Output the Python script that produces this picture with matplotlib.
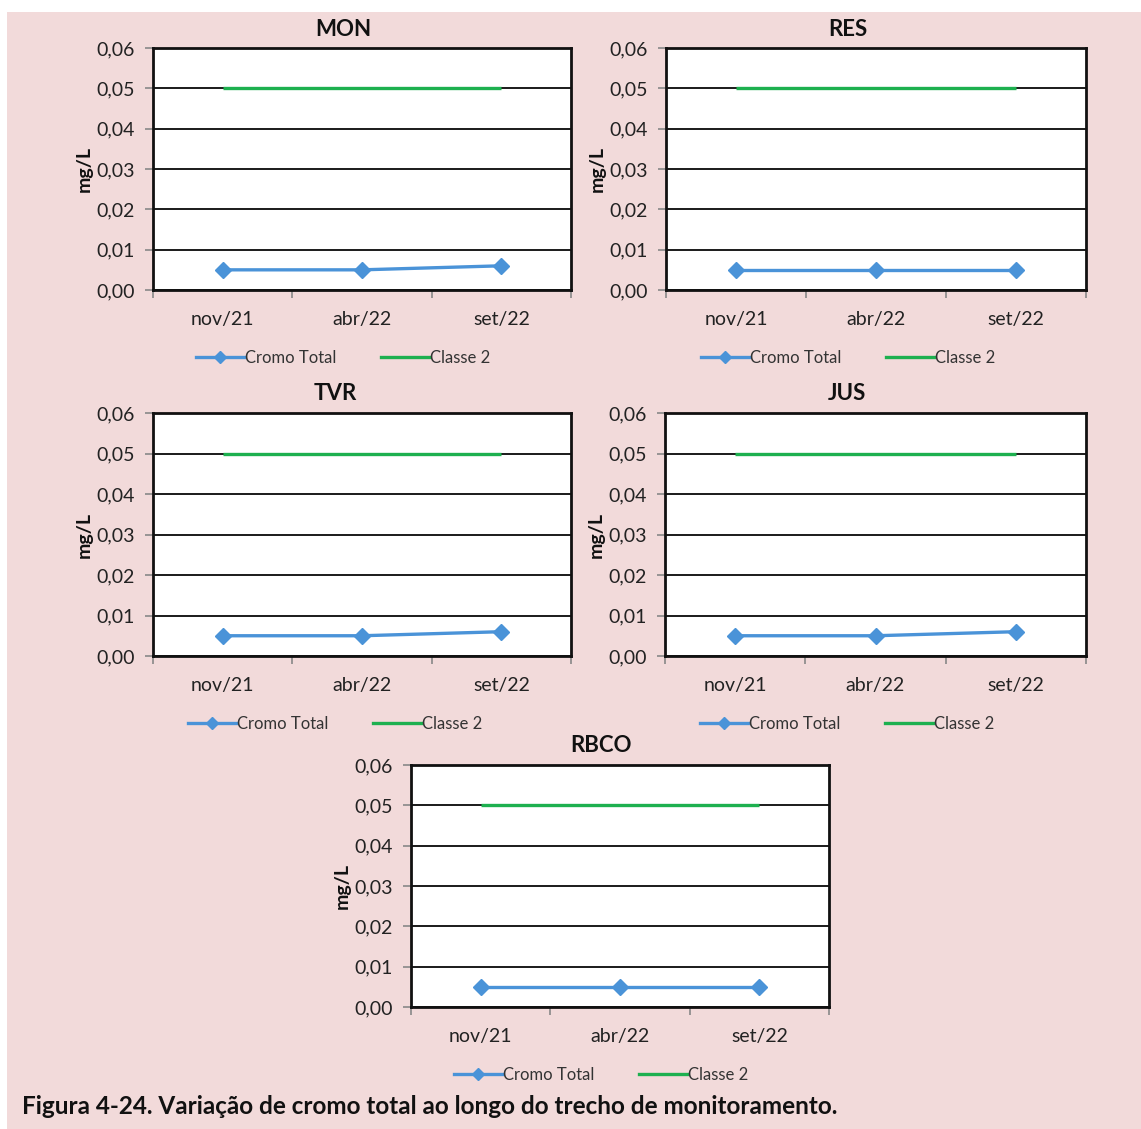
import matplotlib
matplotlib.use("Agg")
import matplotlib.pyplot as plt
from matplotlib.lines import Line2D
import numpy as np

plt.rcParams['font.family'] = ['Lato', 'DejaVu Sans']

# Sampling campaigns and total chromium (mg/L) per station
campaigns = ["nov/21", "abr/22", "set/22"]
stations = ["MON", "RES", "TVR", "JUS", "RBCO"]
cromo_mon = [0.005, 0.005, 0.006]
cromo_res = [0.005, 0.005, 0.005]
cromo_tvr = [0.005, 0.005, 0.006]
cromo_jus = [0.005, 0.005, 0.006]
cromo_rbco = [0.005, 0.005, 0.005]
classe2_limit = 0.05
y_ticks = [0.00, 0.01, 0.02, 0.03, 0.04, 0.05, 0.06]
y_tick_labels = ["0,00", "0,01", "0,02", "0,03", "0,04", "0,05", "0,06"]
series = [cromo_mon, cromo_res, cromo_tvr, cromo_jus, cromo_rbco]

W, H = 1141, 1129
BG = "#f2dada"
BLUE = "#4a93d8"
GREEN = "#1db04f"

fig = plt.figure(figsize=(W / 100, H / 100), dpi=100)
fig.patch.set_facecolor("white")
# pink page panel
fig.patches.append(plt.Rectangle((7 / W, 0), 1 - 7 / W, 1 - 12 / H,
                                 transform=fig.transFigure, facecolor=BG,
                                 edgecolor="none", zorder=-10))

# plot-area boxes in pixels: (left, top, right, bottom), chart centre x
boxes = [
    (153, 48, 571, 290, 343),
    (666, 48, 1086, 290, 848),
    (153, 413, 571, 656, 335),
    (665, 413, 1086, 656, 847),
    (411, 765, 829, 1007, 601),
]


def fx(px):
    return px / W


def fy(py):
    return 1 - py / H


for name, vals, (l, t, r, b, cx) in zip(stations, series, boxes):
    ax = fig.add_axes([fx(l), fy(b), fx(r) - fx(l), fy(t) - fy(b)])
    ax.set_facecolor("white")
    x = np.arange(len(campaigns))
    ax.plot(x, [classe2_limit] * len(campaigns), color=GREEN, lw=2.4,
            solid_capstyle="butt", zorder=3)
    ax.plot(x, vals, color=BLUE, lw=2.4, marker="D", ms=8.5,
            markeredgecolor=BLUE, zorder=4)
    ax.set_xlim(-0.5, len(campaigns) - 0.5)
    ax.set_ylim(0, 0.06)
    ax.set_yticks(y_ticks)
    ax.set_yticklabels(y_tick_labels, fontsize=14, color="#222222")
    ax.set_xticks(x)
    ax.set_xticklabels(campaigns, fontsize=14, color="#222222")
    ax.set_xticks(np.arange(-0.5, len(campaigns)), minor=True)
    ax.tick_params(axis="x", which="major", length=0, pad=15)
    ax.tick_params(axis="x", which="minor", length=6, width=1.2,
                   color="#888888", direction="out")
    ax.tick_params(axis="y", length=6, width=1.2, color="#888888", pad=7)
    ax.grid(axis="y", color="#1a1a1a", lw=1.4, zorder=1)
    ax.set_axisbelow(True)
    for s in ax.spines.values():
        s.set_color("#111111")
        s.set_linewidth(2)
    fig.text(fx(cx), fy(t - 19), name, ha="center", va="center",
             fontsize=16, fontweight="bold", color="#111111")
    fig.text(fx(l - 69), fy((t + b) / 2), "mg/L", rotation=90, ha="center",
             va="center", fontsize=14, fontweight="bold", color="#111111")
    handles = [
        Line2D([], [], color=BLUE, lw=2.4, marker="D", ms=6),
        Line2D([], [], color=GREEN, lw=2.4),
    ]
    fig.legend(handles, ["Cromo Total", "Classe 2"], loc="center",
               bbox_to_anchor=(fx(cx), fy(b + 68)), ncol=2, frameon=False,
               fontsize=12, handlelength=2.9, columnspacing=2.7,
               handletextpad=0.05, labelcolor="#333333")

fig.text(fx(22), fy(1107), "Figura 4-24. Variação de cromo total ao longo do "
         "trecho de monitoramento.", ha="left", va="center", fontsize=17.5,
         fontweight="bold", color="#111111")

fig.savefig("out.png", dpi=100, facecolor=fig.get_facecolor())
